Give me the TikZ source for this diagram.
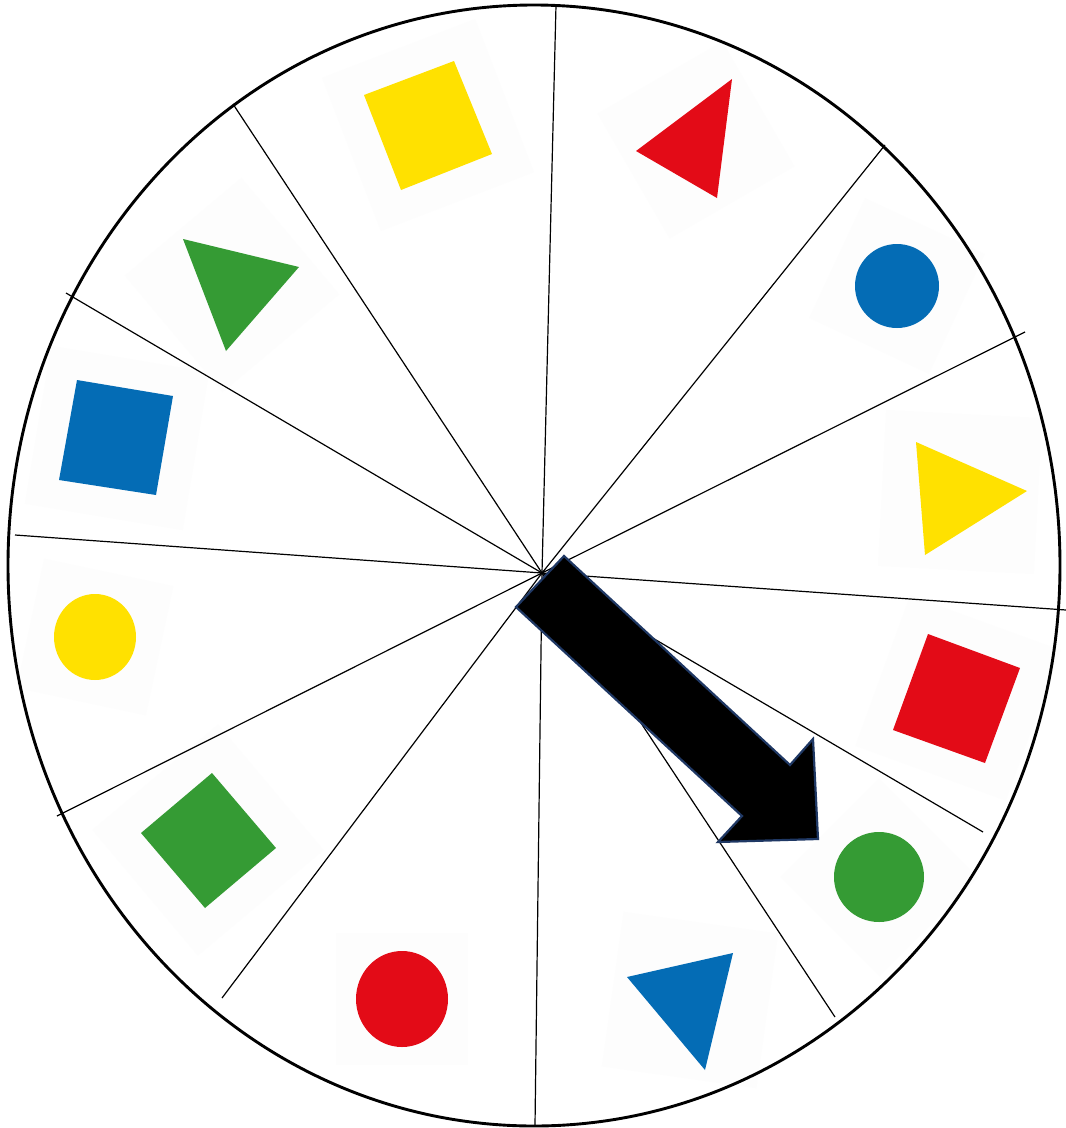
\documentclass[tikz,border=0pt]{standalone}
\usepackage{tikz}
\definecolor{sy}{HTML}{FFE100}
\definecolor{sr}{HTML}{E30B17}
\definecolor{sb}{HTML}{046CB5}
\definecolor{sg}{HTML}{359B34}
\definecolor{bgc}{HTML}{FDFDFD}
\definecolor{navy}{HTML}{1F3864}
\tikzset{
  rim/.style={line width=2.9pt,black},
  spoke/.style={line width=1.2pt,black},
  tile/.style={fill=bgc},
  pointer/.style={fill=black,draw=navy,line width=2.2pt,line join=miter}
}
\begin{document}
\begin{tikzpicture}[x=1pt,y=-1pt]
\useasboundingbox (0,0) rectangle (1066,1128);
\fill[white] (0,0) rectangle (1066,1128);
% faint tiles behind shapes
\foreach \cx/\cy/\a/\h in {428/125/21/82, 696/140/30/72, 897/286/-25/66, 960/492/-3/78, 958/698/-20/80, 879/877/45/70, 690/1000/-8/78, 402/999/0/66, 208/840/40/82, 95/637/-12/66, 117/438/-9.5/80, 232/285/40/76}
  \fill[tile, rotate around={\a:(\cx,\cy)}] (\cx-\h,\cy-\h) rectangle (\cx+\h,\cy+\h);
% rim
\draw[rim] (534,565.5) ellipse [x radius=526, y radius=560.5];
% spokes
\coordinate (c) at (542,573);
\coordinate (e1) at (556,5);
\coordinate (e2) at (885,145);
\coordinate (e3) at (1025,332);
\coordinate (e4) at (1066,610);
\coordinate (e5) at (983,832);
\coordinate (e6) at (835,1017);
\coordinate (e7) at (535,1126);
\coordinate (e8) at (222,998);
\coordinate (e9) at (57,816);
\coordinate (e10) at (15,535);
\coordinate (e11) at (66,293);
\coordinate (e12) at (233,104);
\foreach \i in {1,...,12} \draw[spoke] (c) -- (e\i);
% shapes
\fill[sy] (364,95) -- (454,61) -- (492,154) -- (401,190) -- cycle;
\fill[sr] (732,79) -- (636,151) -- (717,198) -- cycle;
\fill[sb] (897,286) circle [radius=42];
\fill[sy] (916,442) -- (1027,491) -- (925,555) -- cycle;
\fill[sr] (928,634) -- (1020,668) -- (985,763) -- (893,730) -- cycle;
\fill[sg] (879,877) circle [radius=45];
\fill[sb] (733,953) -- (627,977) -- (705,1070) -- cycle;
\fill[sr] (402,999) circle [x radius=46, y radius=48];
\fill[sg] (212,773) -- (276,848) -- (205,908) -- (141,833) -- cycle;
\fill[sy] (95,637) circle [x radius=41, y radius=43];
\fill[sb] (77,380) -- (173,396) -- (156,495) -- (59,480) -- cycle;
\fill[sg] (183,239) -- (299,267) -- (226,351) -- cycle;
% pointer arrow
\coordinate (a1) at (564,556);
\coordinate (a2) at (790,765);
\coordinate (a3) at (813,739);
\coordinate (a4) at (818,839);
\coordinate (a5) at (718,842);
\coordinate (a6) at (742,816);
\coordinate (a7) at (516,607);
\draw[pointer] (a1) -- (a2) -- (a3) -- (a4) -- (a5) -- (a6) -- (a7) -- cycle;
\end{tikzpicture}
\end{document}
